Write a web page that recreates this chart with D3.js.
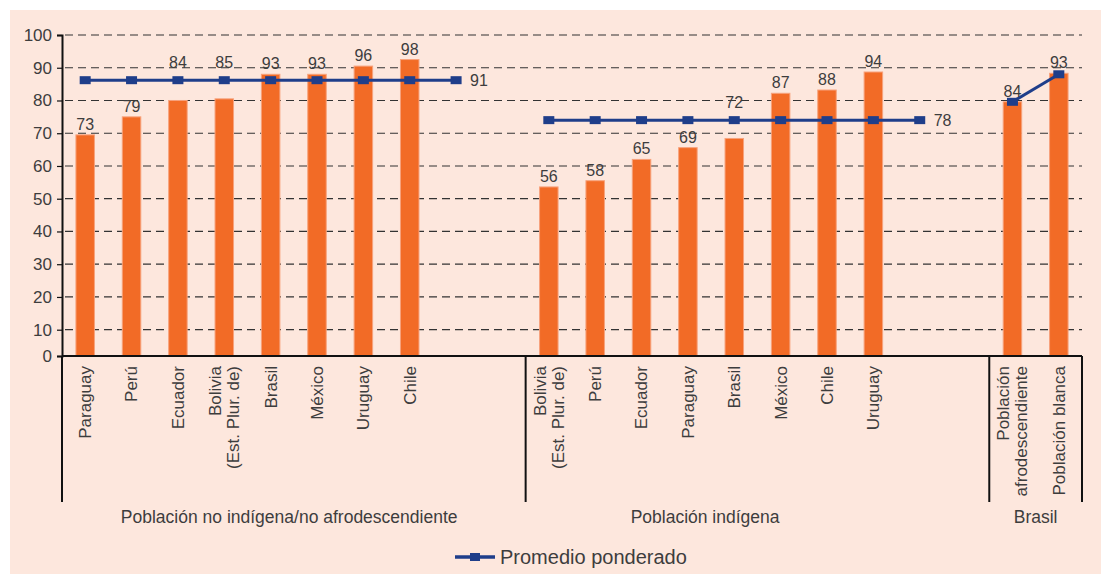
<!DOCTYPE html>
<html lang="es">
<head>
    <meta charset="UTF-8" />
    <title>Promedio ponderado</title>
    <script src="https://d3js.org/d3.v7.min.js"></script>
    <style>
        body { margin: 0; background: #fff; }
        text { font-family: "Liberation Sans", Arial, sans-serif; fill: #3d3d3d; }
    </style>
</head>
<body>
    <script>
        // grupos y categorías
        const groupNames = ['Población no indígena/no afrodescendiente', 'Población indígena', 'Brasil'];
        const groupSlots = [10, 10, 2];
        const cats1 = ['Paraguay', 'Perú', 'Ecuador', 'Bolivia|(Est. Plur. de)', 'Brasil', 'México', 'Uruguay', 'Chile'];
        const cats2 = ['Bolivia|(Est. Plur. de)', 'Perú', 'Ecuador', 'Paraguay', 'Brasil', 'México', 'Chile', 'Uruguay'];
        const cats3 = ['Población|afrodescendiente', 'Población blanca'];

        // alturas de las barras
        const bars1 = [69.5, 75, 80, 80.5, 88, 88, 90.5, 92.5];
        const bars2 = [53.6, 55.5, 62, 65.6, 68.4, 82.2, 83.2, 88.7];
        const bars3 = [79.6, 88.3];

        // etiquetas de datos
        const labels1 = [73, 79, 84, 85, 93, 93, 96, 98];
        const labels2 = [56, 58, 65, 69, 72, 87, 88, 94];
        const labels3 = [84, 93];

        // promedio ponderado
        const avg1 = 86.2, avgLabel1 = 91;
        const avg2 = 74.0, avgLabel2 = 78;
        const line3 = [79.6, 88.0];

        const yTicks = [0, 10, 20, 30, 40, 50, 60, 70, 80, 90, 100];

        const W = 1101, H = 574;
        const plotL = 62, plotR = 1082, baseY = 356, topY = 35, sepBottom = 502;
        const groupLabelSlot = [4.9, 13.87, 21.0];

        const svg = d3.select('body').append('svg').attr('width', W).attr('height', H);
        svg.append('rect').attr('x', 10).attr('y', 10).attr('width', W - 10).attr('height', H - 10).attr('fill', '#fde7dd');

        const nSlots = d3.sum(groupSlots);
        const x = d3.scaleBand().domain(d3.range(nSlots)).range([plotL, plotR]);
        const bw = x.bandwidth();
        // el eje original no es del todo lineal entre 0 y 10
        const y = d3.scaleLinear().domain([0, 10, 100]).range([baseY, 329.7, topY]);

        const groups = [
            { cats: cats1, bars: bars1, labels: labels1 },
            { cats: cats2, bars: bars2, labels: labels2 },
            { cats: cats3, bars: bars3, labels: labels3 }
        ];
        let start = 0;
        groups.forEach((g, i) => { g.start = start; start += groupSlots[i]; });

        // líneas de la grilla
        svg.append('g').selectAll('line').data(yTicks.filter(d => d > 0)).enter().append('line')
            .attr('x1', plotL + 3).attr('x2', plotR)
            .attr('y1', d => y(d)).attr('y2', d => y(d))
            .attr('stroke', '#333').attr('stroke-width', 1.2).attr('stroke-dasharray', '8,5');

        // barras
        const barW = 18.5;
        const items = [];
        groups.forEach(g => g.bars.forEach((v, j) => items.push({ slot: g.start + j, v: v, label: g.labels[j], cat: g.cats[j] })));

        svg.append('g').selectAll('rect').data(items).enter().append('rect')
            .attr('x', d => x(d.slot) + (bw - barW) / 2)
            .attr('width', barW)
            .attr('y', d => y(d.v))
            .attr('height', d => baseY - y(d.v))
            .attr('fill', '#f26b26').attr('stroke', '#f7a27c').attr('stroke-width', 1);

        // series de promedio
        const lines = [
            d3.range(bars1.length + 1).map(j => ({ slot: groups[0].start + j, v: avg1 })),
            d3.range(bars2.length + 1).map(j => ({ slot: groups[1].start + j, v: avg2 })),
            line3.map((v, j) => ({ slot: groups[2].start + j, v: v }))
        ];
        const lineGen = d3.line().x(d => x(d.slot) + bw / 2).y(d => y(d.v));
        const blue = '#1f3e8a';
        lines.forEach(pts => {
            svg.append('path').datum(pts).attr('d', lineGen)
                .attr('fill', 'none').attr('stroke', blue).attr('stroke-width', 3);
            svg.append('g').selectAll('rect').data(pts).enter().append('rect')
                .attr('x', d => x(d.slot) + bw / 2 - 5.5).attr('y', d => y(d.v) - 4)
                .attr('width', 11).attr('height', 8).attr('fill', blue);
        });

        // etiquetas de promedio
        [[lines[0], avgLabel1], [lines[1], avgLabel2]].forEach(([pts, lab]) => {
            const last = pts[pts.length - 1];
            svg.append('text').attr('x', x(last.slot) + bw / 2 + 14).attr('y', y(last.v)).attr('dy', '0.35em')
                .style('font-size', '16px').text(lab);
        });

        // etiquetas de datos
        const lineY = slot => {
            for (const pts of lines) {
                const p = pts.find(q => q.slot === slot);
                if (p) return y(p.v);
            }
            return null;
        };
        svg.append('g').selectAll('text').data(items).enter().append('text')
            .attr('x', d => x(d.slot) + bw / 2)
            .attr('y', d => {
                let b = y(d.v) - 5;
                const ly = lineY(d.slot);
                if (ly !== null && b - 13 < ly + 5 && b > ly - 5) b = ly - 12;
                return b;
            })
            .attr('text-anchor', 'middle').style('font-size', '16px').text(d => d.label);

        // eje Y
        const yAxis = svg.append('g').attr('transform', `translate(${plotL},0)`)
            .call(d3.axisLeft(y).tickValues(yTicks).tickSize(5).tickPadding(5));
        yAxis.select('.domain').attr('stroke', '#111').attr('stroke-width', 2);
        yAxis.selectAll('.tick line').attr('stroke', '#111').attr('stroke-width', 1.2);
        yAxis.selectAll('.tick text').style('font-size', '17px').style('font-family', '"Liberation Sans", Arial, sans-serif').attr('fill', '#3d3d3d');

        // eje de categorías y separadores
        svg.append('line').attr('x1', plotL).attr('x2', plotR).attr('y1', baseY).attr('y2', baseY)
            .attr('stroke', '#111').attr('stroke-width', 2);
        const seps = groups.map(g => x(g.start)).concat([plotR]);
        svg.append('g').selectAll('line').data(seps).enter().append('line')
            .attr('x1', d => d).attr('x2', d => d).attr('y1', baseY).attr('y2', sepBottom)
            .attr('stroke', '#111').attr('stroke-width', 2);

        // etiquetas de categorías (rotadas)
        const catG = svg.append('g').selectAll('g').data(items).enter().append('g')
            .attr('transform', d => `translate(${x(d.slot) + bw / 2},366) rotate(-90)`);
        catG.each(function (d) {
            const parts = d.cat.split('|');
            const t = d3.select(this).append('text').attr('text-anchor', 'end').style('font-size', '17px').attr('fill', '#333');
            parts.forEach((p, k) => {
                t.append('tspan').attr('x', 0).attr('y', (k - (parts.length - 1) / 2) * 18).attr('dy', '0.35em').text(p);
            });
        });

        // etiquetas de grupos
        svg.append('g').selectAll('text').data(groupNames).enter().append('text')
            .attr('x', (d, i) => plotL + groupLabelSlot[i] * bw).attr('y', 523)
            .attr('text-anchor', 'middle').style('font-size', '17.5px').text(d => d);

        // leyenda
        const lg = svg.append('g').attr('transform', 'translate(455,557)');
        lg.append('line').attr('x1', 0).attr('x2', 40).attr('stroke', blue).attr('stroke-width', 3.5);
        lg.append('rect').attr('x', 15).attr('y', -4).attr('width', 10).attr('height', 8).attr('fill', blue);
        lg.append('text').attr('x', 45).attr('y', 0).attr('dy', '0.35em').style('font-size', '20px').attr('fill', '#333').text('Promedio ponderado');
    </script>
</body>
</html>
